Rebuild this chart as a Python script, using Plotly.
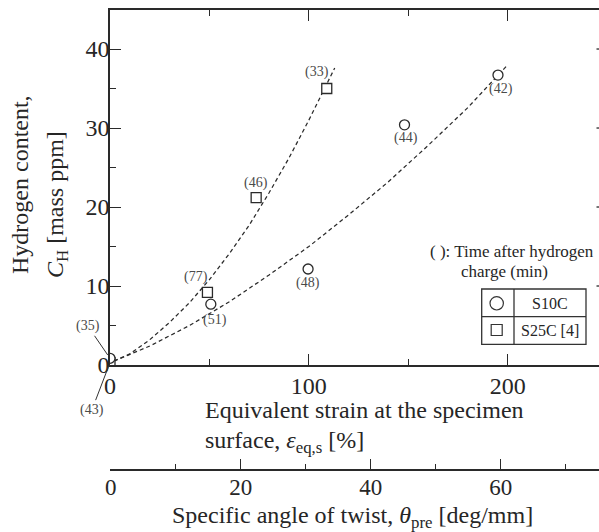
import plotly.graph_objects as go

# ---------------- data ----------------
s10c_strain = [0, 50.7, 99.6, 148.1, 195.1]
s10c_h = [0.85, 7.7, 12.15, 30.4, 36.7]
s10c_time = ["(35)", "(51)", "(48)", "(44)", "(42)"]

s25c_strain = [0, 49.0, 73.5, 109.0]
s25c_h = [0.3, 9.2, 21.2, 35.0]
s25c_time = ["(43)", "(77)", "(46)", "(33)"]

s10c_fit_strain = [2, 20, 40, 60, 80, 100, 120, 140, 160, 180, 200]
s10c_fit_h = [0.5, 2.4, 5.0, 8.0, 11.4, 15.0, 19.0, 23.2, 27.8, 32.6, 38.0]
s25c_fit_strain = [2, 10, 20, 30, 40, 50, 60, 70, 80, 90, 100, 113]
s25c_fit_h = [0.5, 1.4, 3.2, 5.4, 7.9, 10.8, 14.1, 17.7, 21.8, 26.2, 31.0, 37.6]

strain_ticks = [0, 100, 200]
h_ticks = [0, 10, 20, 30, 40]
angle_ticks = [0, 20, 40, 60]

# ---------------- layout constants ----------------
W, H = 599, 532
ML, MR, MT, MB = 110, 0, 10, 62
PW, PH = W - ML - MR, H - MT - MB
FONT = "Liberation Serif"
INK = "#262626"
LINE = "#2a2a2a"


def px(x):
    return (x - ML) / PW


def py(y):
    return (H - MB - y) / PH


main_bottom = py(365)

# label offsets (pixels) for the time labels
s10c_shift = [None, (4, -16), (0, -14), (1, -13.5), (3, -14)]
s25c_shift = [None, (-11, 15.5), (0, 15), (-10, 17)]

fig = go.Figure()

fig.add_trace(go.Scatter(x=s10c_fit_strain, y=s10c_fit_h, mode="lines",
                         line=dict(color=LINE, width=1.25, dash="4px,3px"),
                         hoverinfo="skip", showlegend=False))
fig.add_trace(go.Scatter(x=s25c_fit_strain, y=s25c_fit_h, mode="lines",
                         line=dict(color=LINE, width=1.25, dash="4px,3px"),
                         hoverinfo="skip", showlegend=False))
fig.add_trace(go.Scatter(x=s25c_strain, y=s25c_h, mode="markers", name="S25C [4]",
                         marker=dict(symbol="square", size=10, color="white",
                                     line=dict(color=LINE, width=1.3)),
                         showlegend=False))
fig.add_trace(go.Scatter(x=s10c_strain, y=s10c_h, mode="markers", name="S10C",
                         marker=dict(symbol="circle", size=10, color="white",
                                     line=dict(color=LINE, width=1.3)),
                         showlegend=False))
# empty trace so that the secondary (twist angle) axis is drawn
fig.add_trace(go.Scatter(x=[], y=[], xaxis="x2", yaxis="y", showlegend=False))

annotations = []
lab_font = dict(family=FONT, size=14, color="#4a4a4a")
for xs, ys, ts, sh in [(s10c_strain, s10c_h, s10c_time, s10c_shift),
                       (s25c_strain, s25c_h, s25c_time, s25c_shift)]:
    for x, y, t, s in zip(xs, ys, ts, sh):
        if s is None:
            continue
        annotations.append(dict(x=x, y=y, xref="x", yref="y", text=t, showarrow=False,
                                xshift=s[0], yshift=s[1], font=lab_font))
# leader-line labels at the origin
annotations.append(dict(x=s10c_strain[0], y=s10c_h[0], xref="x", yref="y", text=s10c_time[0],
                        showarrow=True, arrowhead=0, arrowwidth=1, arrowcolor="#333",
                        ax=-22, ay=-32, standoff=4, font=lab_font))
annotations.append(dict(x=s25c_strain[0], y=s25c_h[0], xref="x", yref="y", text=s25c_time[0],
                        showarrow=True, arrowhead=0, arrowwidth=1, arrowcolor="#333",
                        ax=-18, ay=47, standoff=4, font=lab_font))

title_font = dict(family=FONT, size=24, color=INK)
# x-axis titles
annotations.append(dict(x=px(203), y=py(410), xref="paper", yref="paper", xanchor="left",
                        yanchor="middle", showarrow=False, font=title_font,
                        text="Equivalent strain at the specimen"))
annotations.append(dict(x=px(203), y=py(442), xref="paper", yref="paper", xanchor="left",
                        yanchor="middle", showarrow=False, font=title_font,
                        text="surface, <i>ε</i><sub>eq,s</sub> [%]"))
annotations.append(dict(x=px(170), y=py(517), xref="paper", yref="paper", xanchor="left",
                        yanchor="middle", showarrow=False, font=title_font,
                        text="Specific angle of twist, <i>θ</i><sub>pre</sub> [deg/mm]"))
# y-axis title
annotations.append(dict(x=px(20), y=py(185), xref="paper", yref="paper", xanchor="center",
                        yanchor="middle", showarrow=False, font=title_font, textangle=-90,
                        text="Hydrogen content,"))
annotations.append(dict(x=px(57), y=py(205), xref="paper", yref="paper", xanchor="center",
                        yanchor="middle", showarrow=False, font=title_font, textangle=-90,
                        text="<i>C</i><sub>H</sub> [mass ppm]"))
# note
note_font = dict(family=FONT, size=17, color=INK)
annotations.append(dict(x=px(428), y=py(251.7), xref="paper", yref="paper", xanchor="left",
                        yanchor="middle", showarrow=False, font=note_font,
                        text="( ): Time after hydrogen"))
annotations.append(dict(x=px(459), y=py(271.7), xref="paper", yref="paper", xanchor="left",
                        yanchor="middle", showarrow=False, font=note_font,
                        text="charge (min)"))
# legend table text
leg_font = dict(family=FONT, size=16, color=INK)
annotations.append(dict(x=px(550), y=py(303.3), xref="paper", yref="paper", xanchor="center",
                        yanchor="middle", showarrow=False, font=leg_font, text="S10C"))
annotations.append(dict(x=px(550), y=py(330), xref="paper", yref="paper", xanchor="center",
                        yanchor="middle", showarrow=False, font=leg_font, text="S25C [4]"))

shapes = []
bl = dict(color="#333", width=1.3)
shapes.append(dict(type="rect", xref="paper", yref="paper", x0=px(481.7), x1=px(586),
                   y0=py(344.3), y1=py(289), line=bl, fillcolor="white", layer="above"))
shapes.append(dict(type="line", xref="paper", yref="paper", x0=px(481.7), x1=px(586),
                   y0=py(316.7), y1=py(316.7), line=bl))
shapes.append(dict(type="line", xref="paper", yref="paper", x0=px(514), x1=px(514),
                   y0=py(344.3), y1=py(289), line=bl))
shapes.append(dict(type="circle", xref="paper", yref="paper", x0=px(490), x1=px(503.4),
                   y0=py(310), y1=py(296.6), line=dict(color="#333", width=1.2)))
shapes.append(dict(type="rect", xref="paper", yref="paper", x0=px(491.2), x1=px(502.2),
                   y0=py(335.5), y1=py(324.5), line=dict(color="#333", width=1.2)))
# right-frame tick stubs (the frame itself lies just outside the picture)
for t in h_ticks[1:]:
    shapes.append(dict(type="line", xref="paper", yref="y", x0=px(596.5), x1=1.0,
                       y0=t, y1=t, line=dict(color=LINE, width=1.3)))

tick_font = dict(family=FONT, size=24, color=INK)
fig.update_layout(
    width=W, height=H,
    margin=dict(l=ML, r=MR, t=MT, b=MB, pad=0),
    paper_bgcolor="white", plot_bgcolor="white",
    showlegend=False,
    xaxis=dict(domain=[0, 1], anchor="y", range=[0, 245.9],
               tickmode="array", tickvals=strain_ticks, ticktext=[str(v) for v in strain_ticks],
               ticks="inside", ticklen=11, tickwidth=1.3, tickcolor=LINE, ticklabelstandoff=-2,
               minor=dict(dtick=50, ticks="inside", ticklen=6, tickwidth=1.3, tickcolor=LINE),
               showline=True, linecolor=LINE, linewidth=1.5, mirror="ticks",
               showgrid=False, zeroline=False, tickfont=tick_font),
    xaxis2=dict(overlaying="x", anchor="free", position=0, side="bottom",
                range=[-0.1, 75.1],
                tickmode="array", tickvals=angle_ticks, ticktext=[str(v) for v in angle_ticks],
                ticks="inside", ticklen=10, tickwidth=1.3, tickcolor=LINE, ticklabelstandoff=-3,
                minor=dict(dtick=10, ticks="inside", ticklen=5, tickwidth=1.3, tickcolor=LINE),
                showline=True, linecolor=LINE, linewidth=1.5,
                showgrid=False, zeroline=False, tickfont=dict(family=FONT, size=23, color=INK)),
    yaxis=dict(domain=[main_bottom, 1], anchor="x", range=[0, 44.94],
               tickmode="array", tickvals=h_ticks, ticktext=[str(v) for v in h_ticks],
               ticks="inside", ticklen=11, tickwidth=1.3, tickcolor=LINE, ticklabelstandoff=-6,
               minor=dict(dtick=5, ticks="inside", ticklen=6, tickwidth=1.3, tickcolor=LINE),
               showline=True, linecolor=LINE, linewidth=1.5, mirror=False,
               showgrid=False, zeroline=False, tickfont=tick_font),
    annotations=annotations,
    shapes=shapes,
)

fig.write_html("out.html")
